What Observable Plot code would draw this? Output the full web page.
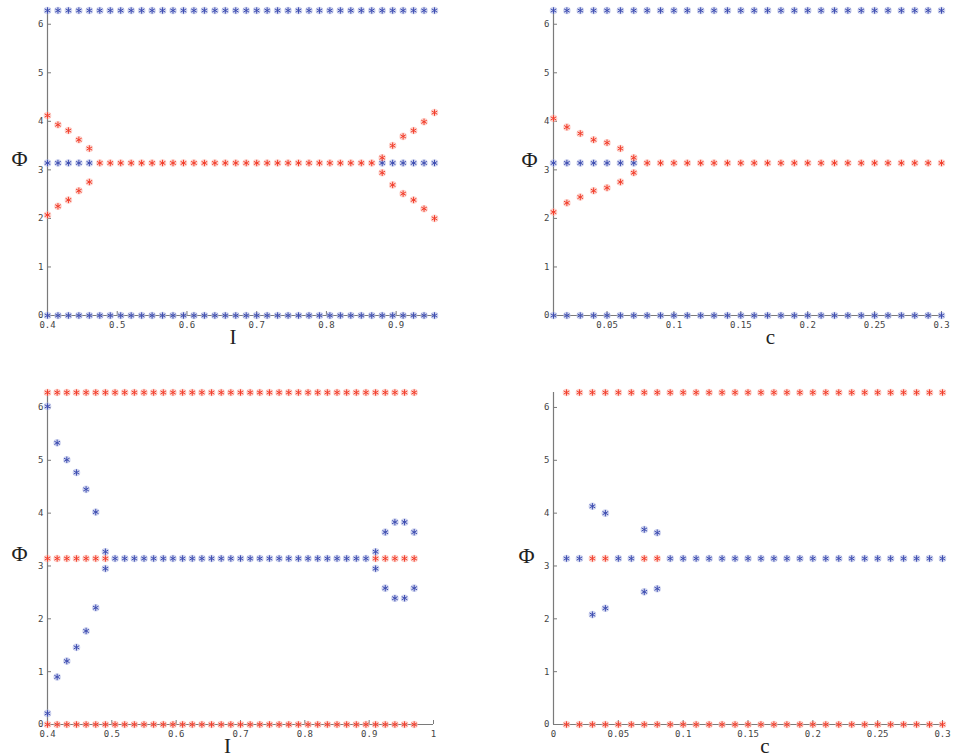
<!DOCTYPE html>
<html>
<head>
<meta charset="utf-8">
<script src="https://cdn.jsdelivr.net/npm/d3@7"></script>
<script src="https://cdn.jsdelivr.net/npm/@observablehq/plot@0.6"></script>
<style>
  html, body { margin: 0; padding: 0; background: #fff; }
  #wrap { position: relative; width: 954px; height: 756px; overflow: hidden; }
  .panel { position: absolute; }
  .panel svg { overflow: visible; }
</style>
</head>
<body>
<div id="wrap">
  <div class="panel" id="pA" style="left:0px;top:0px"></div>
  <div class="panel" id="pB" style="left:477px;top:0px"></div>
  <div class="panel" id="pC" style="left:0px;top:345px"></div>
  <div class="panel" id="pD" style="left:477px;top:345px"></div>
</div>
<script>
// ---------- data ----------
const TWO_PI = 6.2832;
const PI = 3.1416;

const I_top = [0.4,0.415,0.43,0.445,0.46,0.475,0.49,0.505,0.52,0.535,0.55,0.565,0.58,0.595,0.61,0.625,0.64,0.655,0.67,0.685,0.7,0.715,0.73,0.745,0.76,0.775,0.79,0.805,0.82,0.835,0.85,0.865,0.88,0.895,0.91,0.925,0.94,0.955];
const I_bottom = [0.4,0.415,0.43,0.445,0.46,0.475,0.49,0.505,0.52,0.535,0.55,0.565,0.58,0.595,0.61,0.625,0.64,0.655,0.67,0.685,0.7,0.715,0.73,0.745,0.76,0.775,0.79,0.805,0.82,0.835,0.85,0.865,0.88,0.895,0.91,0.925,0.94,0.955,0.97];
const c_vals = [0.01,0.02,0.03,0.04,0.05,0.06,0.07,0.08,0.09,0.1,0.11,0.12,0.13,0.14,0.15,0.16,0.17,0.18,0.19,0.2,0.21,0.22,0.23,0.24,0.25,0.26,0.27,0.28,0.29,0.3];

// Panel A (top left, Φ vs I)
const A_branchI = [0.4,0.415,0.43,0.445,0.46,0.88,0.895,0.91,0.925,0.94,0.955];
const A_midI = [0.475,0.49,0.505,0.52,0.535,0.55,0.565,0.58,0.595,0.61,0.625,0.64,0.655,0.67,0.685,0.7,0.715,0.73,0.745,0.76,0.775,0.79,0.805,0.82,0.835,0.85,0.865];
const A_up =   [4.12,3.93,3.81,3.62,3.44,3.25,3.50,3.69,3.81,3.99,4.18];
const A_down = [2.07,2.25,2.38,2.57,2.75,2.94,2.69,2.51,2.38,2.20,2.00];

// Panel B (top right, Φ vs c)
const B_branchC = [0.01,0.02,0.03,0.04,0.05,0.06,0.07];
const B_midC = [0.08,0.09,0.1,0.11,0.12,0.13,0.14,0.15,0.16,0.17,0.18,0.19,0.2,0.21,0.22,0.23,0.24,0.25,0.26,0.27,0.28,0.29,0.3];
const B_up =   [4.06,3.88,3.75,3.62,3.56,3.44,3.25];
const B_down = [2.13,2.32,2.44,2.57,2.63,2.75,2.94];

// Panel C (bottom left, Φ vs I)
const C_branchI = [0.4,0.415,0.43,0.445,0.46,0.475,0.49,0.91,0.925,0.94,0.955,0.97];
const C_midI = [0.505,0.52,0.535,0.55,0.565,0.58,0.595,0.61,0.625,0.64,0.655,0.67,0.685,0.7,0.715,0.73,0.745,0.76,0.775,0.79,0.805,0.82,0.835,0.85,0.865,0.88,0.895];
const C_up =   [6.02,5.33,5.01,4.77,4.45,4.02,3.27,3.27,3.64,3.83,3.83,3.64];
const C_down = [0.21,0.90,1.20,1.46,1.77,2.21,2.95,2.95,2.58,2.39,2.39,2.58];

// Panel D (bottom right, Φ vs c)
const D_branchC = [0.03,0.04,0.07,0.08];
const D_blueC = [0.01,0.02,0.05,0.06,0.09,0.1,0.11,0.12,0.13,0.14,0.15,0.16,0.17,0.18,0.19,0.2,0.21,0.22,0.23,0.24,0.25,0.26,0.27,0.28,0.29,0.3];
const D_up =   [4.13,4.00,3.69,3.63];
const D_down = [2.08,2.20,2.51,2.57];

const ticksI_top = [0.4,0.5,0.6,0.7,0.8,0.9];
const ticksI_bottom = [0.4,0.5,0.6,0.7,0.8,0.9,1];
const ticksC_top = [0.05,0.1,0.15,0.2,0.25,0.3];
const ticksC_bottom = [0,0.05,0.1,0.15,0.2,0.25,0.3];
const ticksPhi = [0,1,2,3,4,5,6];

// ---------- styling ----------
const BLUE = "#3d4cb0", BLUE_HALO = "#b4bce6";
const RED = "#f23c2a", RED_HALO = "#fbbab0";
const AXIS = "#7a7a7a";
const TICKTEXT = "#444";
const MONO = "'DejaVu Sans Mono', 'Liberation Mono', monospace";
const SERIF = "'Liberation Serif', 'DejaVu Serif', serif";

function pts(xs, ys, color) {
  return xs.map((x, i) => ({x, y: Array.isArray(ys) ? ys[i] : ys, color}));
}

function starMarks(rows) {
  return [
    Plot.dot(rows, {x: "x", y: "y", r: 3.8, fill: d => d.color === "b" ? BLUE_HALO : RED_HALO, fillOpacity: 0.6, stroke: "none"}),
    Plot.dot(rows, {x: "x", y: "y", r: 3.0, symbol: "asterisk", stroke: d => d.color === "b" ? BLUE : RED, strokeWidth: 1})
  ];
}

const fmt = d => String(+d.toFixed(3));

function panel({el, width, height, margins, xDomain, xTicks, rows, xLabel, phiDx, phiDy, xlDx, xlDy}) {
  const chart = Plot.plot({
    width, height,
    marginLeft: margins[0], marginRight: margins[1], marginTop: margins[2], marginBottom: margins[3],
    style: {background: "transparent", overflow: "visible"},
    x: {domain: xDomain},
    y: {domain: [0, TWO_PI]},
    marks: [
      Plot.ruleX([xDomain[0]], {stroke: AXIS, strokeWidth: 1.2}),
      Plot.ruleY([0], {stroke: AXIS, strokeWidth: 1.2}),
      // inward tick marks
      Plot.axisX({ticks: xTicks, tickSize: 4, dy: -4, fill: "none", stroke: AXIS, label: null}),
      Plot.axisY({ticks: ticksPhi, tickSize: 4, dx: 4, fill: "none", stroke: AXIS, label: null}),
      // tick labels
      Plot.axisX({ticks: xTicks, tickSize: 0, tickPadding: 6, tickFormat: fmt, fontFamily: MONO, fontSize: 9, letterSpacing: "0.5px", fill: TICKTEXT, label: null}),
      Plot.axisY({ticks: ticksPhi, tickSize: 0, tickPadding: 4, tickFormat: fmt, fontFamily: MONO, fontSize: 9, fill: TICKTEXT, label: null}),
      ...starMarks(rows),
      // axis titles
      Plot.text(["Φ"], {frameAnchor: "left", dx: phiDx, dy: phiDy, fontFamily: SERIF, fontSize: 22, fill: "#222", textAnchor: "middle"}),
      Plot.text([xLabel], {frameAnchor: "bottom", lineAnchor: "bottom", dx: xlDx, dy: xlDy, fontFamily: SERIF, fontSize: 21, fill: "#222", textAnchor: "middle"})
    ]
  });
  document.getElementById(el).appendChild(chart);
}

// Panel A
panel({
  el: "pA", width: 477, height: 345, margins: [47, 43, 10, 30],
  xDomain: [0.4, 0.955], xTicks: ticksI_top, xLabel: "I",
  phiDx: -28, phiDy: -4, xlDx: -8, xlDy: 28,
  rows: [
    ...pts(I_top, TWO_PI, "b"),
    ...pts(I_top, 0, "b"),
    ...pts(A_branchI, PI, "b"),
    ...pts(A_midI, PI, "r"),
    ...pts(A_branchI, A_up, "r"),
    ...pts(A_branchI, A_down, "r")
  ]
});

// Panel B
panel({
  el: "pB", width: 477, height: 345, margins: [76, 13, 10, 30],
  xDomain: [0.01, 0.3], xTicks: ticksC_top, xLabel: "c",
  phiDx: -24, phiDy: -3, xlDx: 23, xlDy: 28,
  rows: [
    ...pts(c_vals, TWO_PI, "b"),
    ...pts(c_vals, 0, "b"),
    ...pts(B_branchC, PI, "b"),
    ...pts(B_midC, PI, "r"),
    ...pts(B_branchC, B_up, "r"),
    ...pts(B_branchC, B_down, "r")
  ]
});

// Panel C
panel({
  el: "pC", width: 477, height: 411, margins: [47, 44, 47, 32],
  xDomain: [0.4, 1], xTicks: ticksI_bottom, xLabel: "I",
  phiDx: -28, phiDy: -5, xlDx: -13, xlDy: 28,
  rows: [
    ...pts(I_bottom, TWO_PI, "r"),
    ...pts(I_bottom, 0, "r"),
    ...pts(C_midI, PI, "b"),
    ...pts(C_branchI, PI, "r"),
    ...pts(C_branchI, C_up, "b"),
    ...pts(C_branchI, C_down, "b")
  ]
});

// Panel D
panel({
  el: "pD", width: 477, height: 411, margins: [76, 12, 47, 32],
  xDomain: [0, 0.3], xTicks: ticksC_bottom, xLabel: "c",
  phiDx: -27, phiDy: -3, xlDx: 17, xlDy: 28,
  rows: [
    ...pts(c_vals, TWO_PI, "r"),
    ...pts(c_vals, 0, "r"),
    ...pts(D_blueC, PI, "b"),
    ...pts(D_branchC, PI, "r"),
    ...pts(D_branchC, D_up, "b"),
    ...pts(D_branchC, D_down, "b")
  ]
});
</script>
</body>
</html>
